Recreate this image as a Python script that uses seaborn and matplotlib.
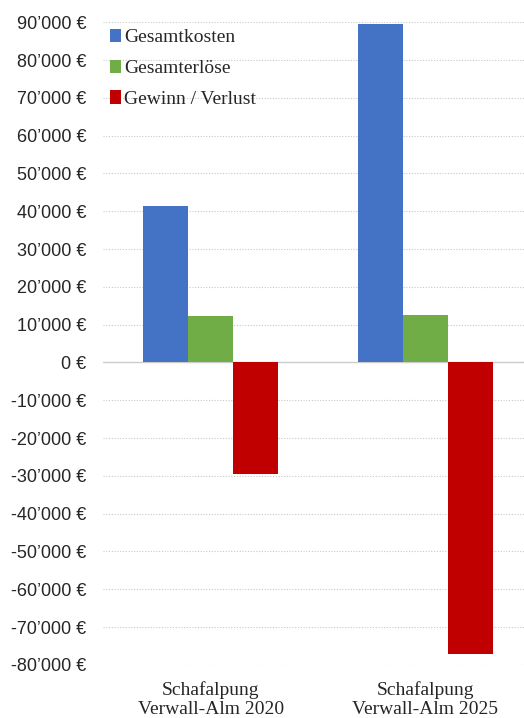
import pandas as pd
import seaborn as sns
import matplotlib.pyplot as plt
from matplotlib.ticker import FuncFormatter, MultipleLocator

# values
categories = ["Schafalpung\nVerwall-Alm 2020", "Schafalpung\nVerwall-Alm 2025"]
series = ["Gesamtkosten", "Gesamterlöse", "Gewinn / Verlust"]
gesamtkosten = [41400, 89600]
gesamterloese = [12200, 12600]
gewinn_verlust = [-29500, -77000]
colors = ["#4472c4", "#70ad47", "#c00000"]

rows = []
for i, cat in enumerate(categories):
    for name, vals in zip(series, [gesamtkosten, gesamterloese, gewinn_verlust]):
        rows.append({"kategorie": cat, "reihe": name, "wert": vals[i]})
df = pd.DataFrame(rows)

sns.set_style("white")
fig = plt.figure(figsize=(5.24, 7.18), dpi=100)
ax = fig.add_axes([0.197, 0.074, 0.803, 0.895])

sns.barplot(data=df, x="kategorie", y="wert", hue="reihe", palette=colors,
            width=0.628, saturation=1, linewidth=0, ax=ax, legend=True)

ax.set_ylim(-80000, 90000)
ax.set_xlim(-0.5, 1.46)
ax.yaxis.set_major_locator(MultipleLocator(10000))
ax.yaxis.set_major_formatter(FuncFormatter(
    lambda v, _: f"{int(v):,}".replace(",", "\u2019") + " \u20ac"))
ax.grid(axis="y", color="#c8c8c8", linestyle=(0, (1, 1.5)), linewidth=0.8)
ax.set_axisbelow(True)
ax.axhline(0, color="#d0d0d0", linewidth=1.0, zorder=0.5)
for s in ax.spines.values():
    s.set_visible(False)
ax.set_xlabel("")
ax.set_ylabel("")
ax.tick_params(axis="both", length=0)
ax.tick_params(axis="y", pad=12)
ax.tick_params(axis="x", pad=12)
for t in ax.get_yticklabels():
    t.set_fontfamily("Liberation Sans")
    t.set_fontsize(13)
for t in ax.get_xticklabels():
    t.set_fontfamily("Liberation Serif")
    t.set_fontsize(14)
    t.set_linespacing(1.12)

leg = ax.legend(loc="upper left", bbox_to_anchor=(-0.02, 1.014), frameon=False,
                handlelength=0.55, handleheight=0.7, handletextpad=0.15,
                labelspacing=0.68, borderpad=0.3,
                prop={"family": "Liberation Serif", "size": 14})

fig.savefig("out.png", dpi=100)
